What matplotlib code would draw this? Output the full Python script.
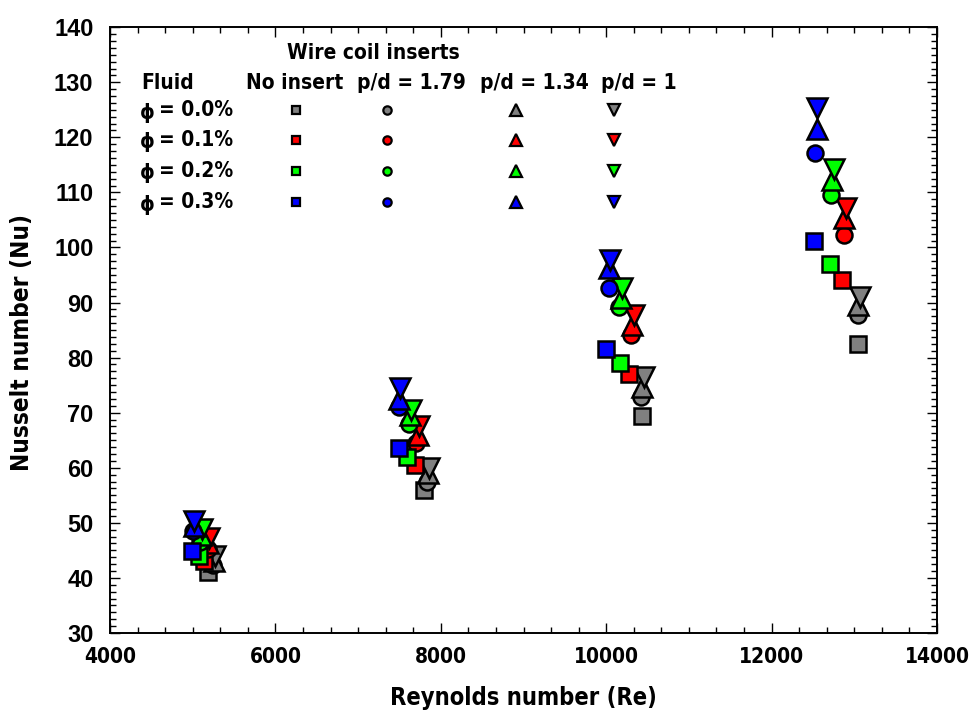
import matplotlib
matplotlib.use("Agg")
import matplotlib.pyplot as plt
from matplotlib import font_manager
from matplotlib.ticker import MultipleLocator, AutoMinorLocator

# Nusselt vs Reynolds, rows = fluid concentration (0.0, 0.1, 0.2, 0.3 %)
FLUIDS = ["0.0%", "0.1%", "0.2%", "0.3%"]
COLORS = ["#808080", "#ff0000", "#00ff00", "#0000ff"]

# no insert (squares)
re_none = [[5190, 7800, 10430, 13050],
           [5130, 7690, 10270, 12850],
           [5070, 7590, 10170, 12710],
           [4990, 7490, 10000, 12510]]
nu_none = [[41.1, 56.0, 69.4, 82.4],
           [43.0, 60.5, 77.1, 94.1],
           [43.9, 62.0, 79.1, 97.0],
           [44.8, 63.5, 81.6, 101.1]]

# p/d = 1.79 (circles)
re_179 = [[5250, 7830, 10420, 13040],
          [5180, 7700, 10300, 12870],
          [5090, 7620, 10160, 12720],
          [5000, 7490, 10030, 12520]]
nu_179 = [[42.3, 57.5, 72.9, 87.7],
          [45.2, 64.5, 84.1, 102.2],
          [46.5, 68.0, 89.2, 109.6],
          [48.5, 71.0, 92.7, 117.2]]

# p/d = 1.34 (up triangles)
re_134 = [[5260, 7850, 10430, 13050],
          [5190, 7720, 10310, 12880],
          [5100, 7630, 10175, 12730],
          [5010, 7500, 10030, 12545]]
nu_134 = [[43.0, 59.0, 74.7, 89.5],
          [46.3, 66.0, 85.9, 105.4],
          [47.8, 69.5, 90.9, 112.2],
          [49.5, 72.5, 96.2, 121.6]]

# p/d = 1 (down triangles)
re_100 = [[5270, 7860, 10460, 13070],
          [5200, 7740, 10330, 12900],
          [5110, 7640, 10190, 12750],
          [5020, 7510, 10050, 12545]]
nu_100 = [[43.9, 60.0, 76.5, 91.0],
          [47.3, 67.5, 87.7, 107.1],
          [48.8, 70.5, 92.6, 114.2],
          [50.3, 74.5, 97.7, 125.3]]

INSERTS = ["No insert", "p/d = 1.79", "p/d = 1.34", "p/d = 1"]
MARKERS = ["s", "o", "^", "v"]
SIZES = [12, 11.5, 15, 15]

# narrow bold face if there is one, else plain Liberation Sans
have_cond = any(f.name == "DejaVu Sans" and f.stretch == "condensed"
                and f.weight in ("bold", 700)
                for f in font_manager.fontManager.ttflist)
if have_cond:
    NARROW = dict(fontfamily="DejaVu Sans", fontstretch="condensed")
else:
    NARROW = dict(fontfamily="Liberation Sans")
WIDE = "Liberation Sans"

fig = plt.figure(figsize=(9.74, 7.16), dpi=100)
ax = fig.add_axes([0.113, 0.116, 0.849, 0.846])

series = [(re_none, nu_none), (re_179, nu_179), (re_134, nu_134), (re_100, nu_100)]
for i, col in enumerate(COLORS):
    for (re, nu), mk, ms in zip(series, MARKERS, SIZES):
        ax.plot(re[i], nu[i], linestyle="none", marker=mk, ms=ms,
                mfc=col, mec="black", mew=1.8, zorder=3)

ax.set_xlim(4000, 14000)
ax.set_ylim(30, 140)
ax.xaxis.set_major_locator(MultipleLocator(2000))
ax.xaxis.set_minor_locator(AutoMinorLocator(6))
ax.yaxis.set_major_locator(MultipleLocator(10))
ax.yaxis.set_minor_locator(AutoMinorLocator(8))
ax.tick_params(which="both", direction="in", top=True, right=True, width=1.0)
ax.tick_params(which="major", length=7)
ax.tick_params(which="minor", length=4)
ax.tick_params(axis="x", which="major", pad=10)
ax.tick_params(axis="y", which="major", pad=12)
for s in ax.spines.values():
    s.set_linewidth(1.4)

for lab in ax.get_xticklabels():
    lab.update(NARROW)
    lab.set_fontweight("bold")
    lab.set_fontsize(15)
for lab in ax.get_yticklabels():
    lab.set_fontfamily(WIDE)
    lab.set_fontweight("bold")
    lab.set_fontsize(17)

ax.set_xlabel("Reynolds number (Re)", fontweight="bold", fontsize=17,
              labelpad=14, **NARROW)
ax.set_ylabel("Nusselt number (Nu)", fontweight="bold", fontsize=17.5,
              **NARROW)
ax.yaxis.set_label_coords(-0.092, 0.48)

# in-plot legend table
txt = dict(transform=ax.transAxes, fontweight="bold", fontsize=15,
           va="center", **NARROW)
ax.text(0.318, 0.957, "Wire coil inserts", ha="center", **txt)
ax.text(0.038, 0.908, "Fluid", ha="left", **txt)
head_x = [0.223, 0.365, 0.513, 0.640]
mark_x = [0.225, 0.335, 0.491, 0.609]
for hx, name in zip(head_x, INSERTS):
    ax.text(hx, 0.908, name, ha="center", **txt)

row_y = [0.863, 0.814, 0.763, 0.711]
leg_sizes = [6, 6, 8, 8]
for ry, f, col in zip(row_y, FLUIDS, COLORS):
    ax.text(0.045, ry - 0.004, "\u03d5", ha="center", **txt)
    ax.text(0.059, ry, "= " + f, ha="left", **txt)
    for mx, mk, ms in zip(mark_x, MARKERS, leg_sizes):
        ax.plot([mx], [ry], transform=ax.transAxes, linestyle="none",
                marker=mk, ms=ms, mfc=col, mec="black", mew=1.6)

fig.savefig("out.png", dpi=100)
